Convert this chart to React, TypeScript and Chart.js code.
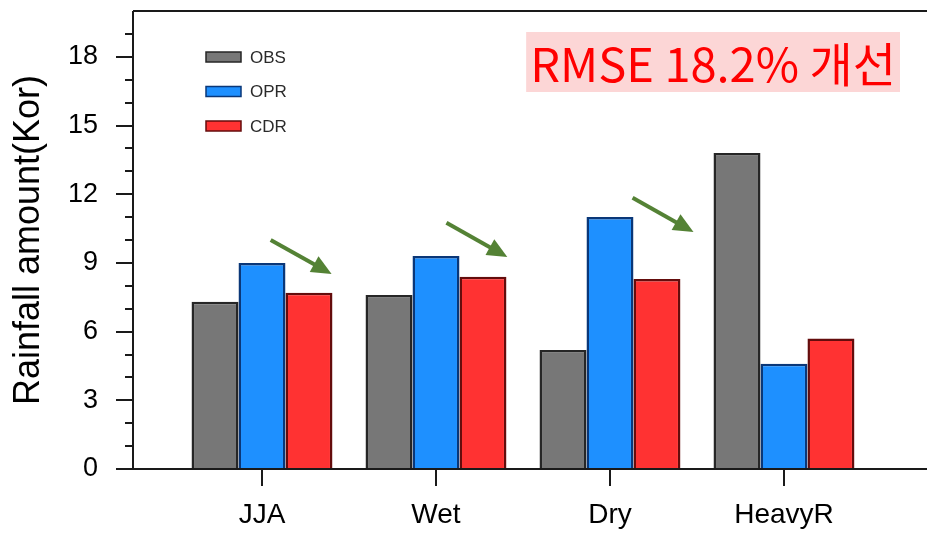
import { useEffect, useRef } from "react";
import { Chart, registerables } from "chart.js";

Chart.register(...registerables);

// Rainfall amount over Korea for each regime
const categories = ["JJA", "Wet", "Dry", "HeavyR"];
const categoryPositions = [1, 2, 3, 4];
const seriesNames = ["OBS", "OPR", "CDR"];
const obsValues = [7.3, 7.6, 5.2, 13.8];
const oprValues = [9.0, 9.3, 11.0, 4.6];
const cdrValues = [7.7, 8.4, 8.3, 5.7];
const yTickLabels = [0, 3, 6, 9, 12, 15, 18];

// Arrows marking the OPR -> CDR reduction, in data units [x0, y0, x1, y1]
const improvementArrows = [
  [1.05, 10.0, 1.4, 8.52],
  [2.06, 10.75, 2.41, 9.26],
  [3.13, 11.84, 3.48, 10.35],
];
const annotationText = "RMSE 18.2% 개선";

const fills = ["#777777", "#1e90ff", "#ff3232"];
const borders = ["#262626", "#0a3778", "#640c0c"];
const axisFont = '"Liberation Sans", Arial, Helvetica, sans-serif';

const decorations = {
  id: "decorations",
  afterDatasetsDraw(chart: any) {
    const { ctx, chartArea: a, scales } = chart;
    const y = scales.y;
    ctx.save();
    ctx.strokeStyle = "#1a1a1a";
    ctx.lineWidth = 2;
    // y-axis tick marks: long at labelled values, short elsewhere
    for (const t of y.ticks) {
      if (t.value >= y.max) continue;
      const py = Math.round(y.getPixelForValue(t.value));
      const len = yTickLabels.includes(t.value) ? 17 : 8;
      ctx.beginPath();
      ctx.moveTo(a.left - len, py);
      ctx.lineTo(a.left, py);
      ctx.stroke();
    }
    // frame lines
    ctx.beginPath();
    ctx.moveTo(a.left, a.top);
    ctx.lineTo(a.left, a.bottom);
    ctx.moveTo(a.left, a.top);
    ctx.lineTo(a.right, a.top);
    ctx.moveTo(a.left, a.bottom);
    ctx.lineTo(a.right, a.bottom);
    ctx.stroke();
    ctx.restore();
  },
  afterDraw(chart: any) {
    const { ctx, chartArea: a, scales } = chart;
    const { x, y } = scales;
    ctx.save();

    // legend
    ctx.font = `17px ${axisFont}`;
    ctx.textBaseline = "middle";
    ctx.textAlign = "left";
    chart.data.datasets.forEach((ds: any, i: number) => {
      const bx = a.left + 73;
      const cy = a.top + 46 + i * 34.5;
      ctx.fillStyle = ds.backgroundColor;
      ctx.strokeStyle = ds.borderColor;
      ctx.lineWidth = 1.5;
      ctx.fillRect(bx, cy - 5, 35, 10);
      ctx.strokeRect(bx, cy - 5, 35, 10);
      ctx.fillStyle = "#2a2a2a";
      ctx.fillText(ds.label, bx + 44, cy + 1);
    });

    // green arrows
    ctx.strokeStyle = "#548235";
    ctx.fillStyle = "#548235";
    ctx.lineWidth = 4;
    for (const [x0, y0, x1, y1] of improvementArrows) {
      const px0 = x.getPixelForValue(x0);
      const py0 = y.getPixelForValue(y0);
      const px1 = x.getPixelForValue(x1);
      const py1 = y.getPixelForValue(y1);
      const ang = Math.atan2(py1 - py0, px1 - px0);
      const head = 20;
      const half = 9;
      const bxp = px1 - head * Math.cos(ang);
      const byp = py1 - head * Math.sin(ang);
      ctx.beginPath();
      ctx.moveTo(px0, py0);
      ctx.lineTo(bxp + 2 * Math.cos(ang), byp + 2 * Math.sin(ang));
      ctx.stroke();
      ctx.beginPath();
      ctx.moveTo(px1, py1);
      ctx.lineTo(bxp - half * Math.sin(ang), byp + half * Math.cos(ang));
      ctx.lineTo(bxp + half * Math.sin(ang), byp - half * Math.cos(ang));
      ctx.closePath();
      ctx.fill();
    }

    // RMSE note
    ctx.font = '47px "Noto Sans CJK KR", "Noto Sans", sans-serif';
    const w = ctx.measureText(annotationText).width;
    const boxW = w + 8;
    const boxR = a.right - 27;
    const boxT = a.top + 21;
    ctx.fillStyle = "#fcd6d6";
    ctx.fillRect(boxR - boxW, boxT, boxW, 60);
    ctx.fillStyle = "#ff0000";
    ctx.textAlign = "center";
    ctx.textBaseline = "middle";
    ctx.fillText(annotationText, boxR - boxW / 2, boxT + 32);
    ctx.restore();
  },
};

export default function App() {
  const canvasRef = useRef<HTMLCanvasElement | null>(null);

  useEffect(() => {
    const canvas = canvasRef.current;
    if (!canvas) return;
    const seriesValues = [obsValues, oprValues, cdrValues];
    const chart = new Chart(canvas, {
      type: "bar",
      data: {
        datasets: seriesNames.map((name, i) => ({
          label: name,
          data: seriesValues[i].map((v, j) => ({ x: categoryPositions[j], y: v })),
          backgroundColor: fills[i],
          borderColor: borders[i],
          borderWidth: 2.5,
          categoryPercentage: 0.81,
          barPercentage: 1,
        })),
      },
      options: {
        responsive: false,
        animation: false,
        devicePixelRatio: 1,
        layout: { padding: { top: 11, right: 0, left: 0, bottom: 0 } },
        plugins: {
          legend: { display: false },
          tooltip: { enabled: false },
          title: { display: false },
        },
        scales: {
          x: {
            type: "linear",
            min: 0.2586,
            max: 4.822,
            offset: false,
            afterBuildTicks: (scale: any) => {
              scale.ticks = categoryPositions.map((v) => ({ value: v }));
            },
            afterFit: (scale: any) => {
              scale.height = 66;
              scale.paddingLeft = 0;
              scale.paddingRight = 0;
            },
            ticks: {
              autoSkip: false,
              maxRotation: 0,
              padding: 12,
              color: "#000",
              font: { family: axisFont, size: 28 },
              callback: (value: any) => {
                const idx = categoryPositions.indexOf(Number(value));
                return idx >= 0 ? categories[idx] : "";
              },
            },
            grid: {
              display: true,
              offset: false,
              drawOnChartArea: false,
              drawTicks: true,
              tickLength: 17,
              color: "#1a1a1a",
              lineWidth: 2,
            },
            border: { display: false },
          },
          y: {
            type: "linear",
            min: 0,
            max: 20,
            afterFit: (scale: any) => {
              scale.width = 133;
              scale.paddingTop = 0;
              scale.paddingBottom = 0;
            },
            ticks: {
              stepSize: 1,
              autoSkip: false,
              padding: 35,
              color: "#000",
              font: { family: axisFont, size: 27 },
              callback: (value: any) =>
                yTickLabels.includes(Number(value)) ? String(value) : "",
            },
            grid: { display: false, drawTicks: false },
            border: { display: false },
            title: {
              display: true,
              text: "Rainfall amount(Kor)",
              color: "#000",
              font: { family: axisFont, size: 36 },
              padding: { top: 7, bottom: 0 },
            },
          },
        },
      },
      plugins: [decorations],
    } as any);
    return () => chart.destroy();
  }, []);

  return (
    <div style={{ position: "absolute", left: 0, top: 0, width: 927, height: 535, background: "#fff" }}>
      <canvas ref={canvasRef} width={927} height={535} style={{ display: "block" }} />
    </div>
  );
}
